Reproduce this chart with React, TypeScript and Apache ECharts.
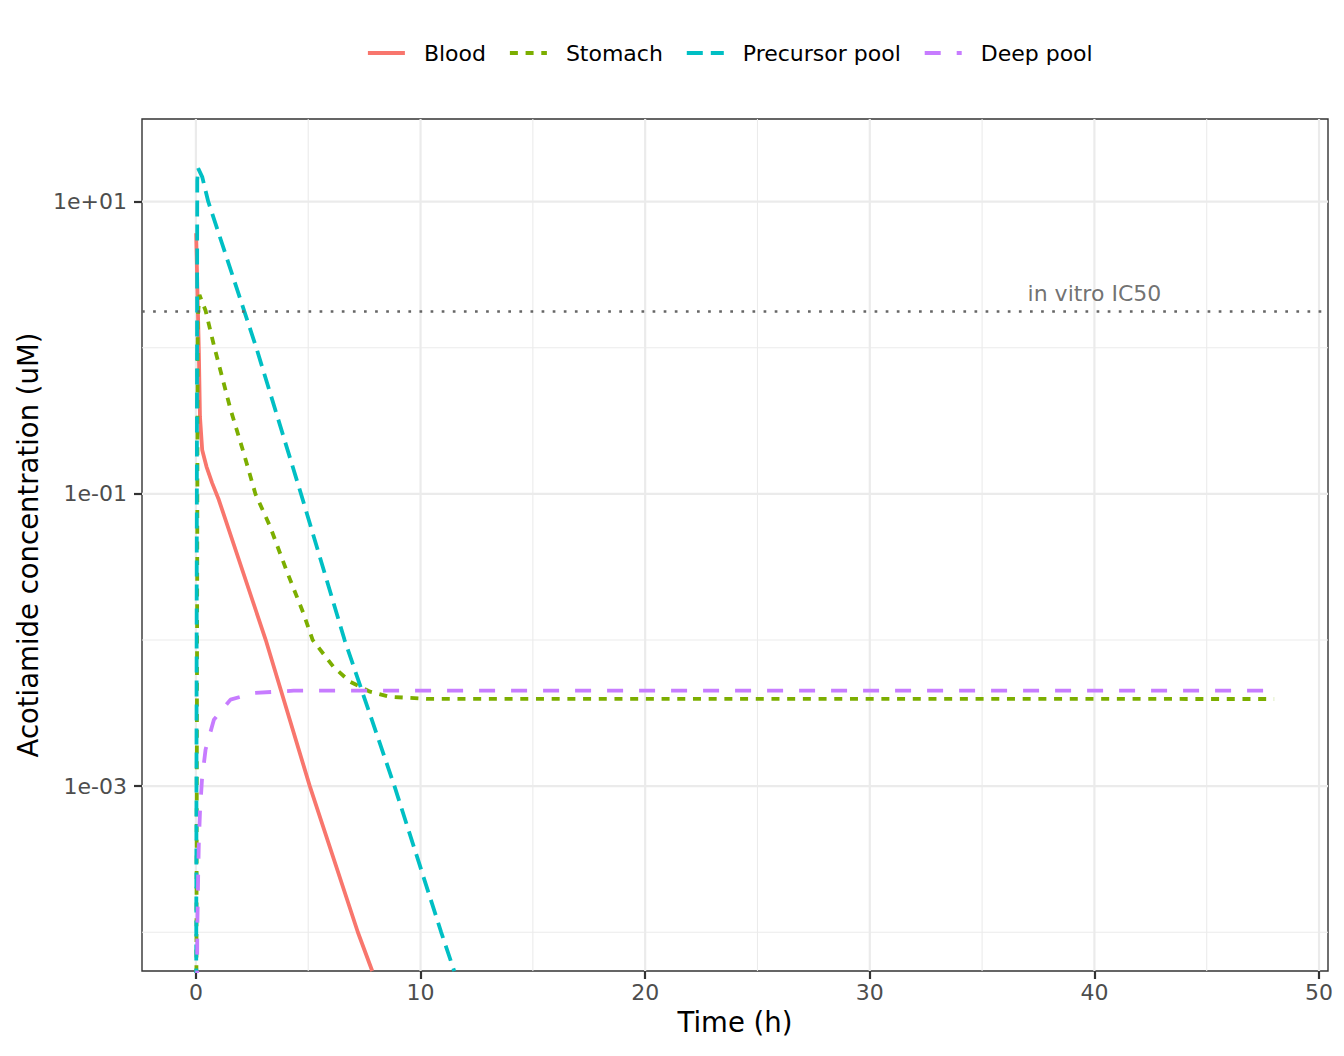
import React, { useEffect, useRef } from 'react';
import * as echarts from 'echarts';

const FONT = 'DejaVu Sans';

// Compartment concentrations (uM) over time (h)
const seriesNames = ['Blood', 'Stomach', 'Precursor pool', 'Deep pool'];

const bloodTime = [0.01, 0.06, 0.13, 0.18, 0.28, 0.47, 0.72, 1.02, 3.11, 5.07, 7.21, 7.85];
const bloodConc = [6.08, 2.77, 0.968, 0.339, 0.2, 0.154, 0.119, 0.0912, 0.01, 0.001, 0.0001, 0.0000543];

const stomachTime = [0, 0.08, 0.16, 0.43, 0.8, 1.54, 2.13, 2.65, 3.3, 4.03, 4.79, 5.2, 6.12, 6.86, 7.75, 8.63, 10.26, 48];
const stomachConc = [1e-6, 1.6, 2.3, 1.8, 1.04, 0.38, 0.19, 0.1, 0.06, 0.03, 0.0152, 0.01, 0.00656, 0.00519, 0.00443, 0.00409, 0.00396, 0.00395];

const precursorTime = [0, 0.06, 0.1, 0.28, 0.55, 2.69, 4.68, 6.62, 8.84, 10.92, 11.5];
const precursorConc = [1e-6, 14, 16.9, 14.8, 10, 1, 0.1, 0.01, 0.001, 0.0001, 0.0000543];

const deepTime = [0, 0.06, 0.1, 0.13, 0.18, 0.27, 0.43, 0.8, 1.54, 2.58, 4.35, 48];
const deepConc = [1e-7, 1e-4, 2.42e-4, 4.07e-4, 6.6e-4, 1.11e-3, 1.78e-3, 2.85e-3, 3.91e-3, 4.34e-3, 4.5e-3, 4.5e-3];

// Reference line
const ic50 = 1.78;
const ic50Label = 'in vitro IC50';
const ic50LabelTime = 40;

// Axis range and breaks (y in log10 units)
const xRange = [-2.4, 50.4];
const yRange = [-4.265, 1.566];
const xMajor = [0, 10, 20, 30, 40, 50];
const xMinor = [5, 15, 25, 35, 45];
const yMajor = [-3, -1, 1];
const yMinor = [-4, -2, 0];

const fmtExp = (v: number) => `1e${v < 0 ? '-' : '+'}${String(Math.abs(v)).padStart(2, '0')}`;
const toPairs = (t: number[], c: number[]) => t.map((x, i) => [x, Math.log10(c[i])]);

const App: React.FC = () => {
  const ref = useRef<HTMLDivElement>(null);

  useEffect(() => {
    if (!ref.current) return;
    const chart = echarts.init(ref.current, undefined, { renderer: 'svg' });

    const colors = ['#F8766D', '#7CAE00', '#00BFC4', '#C77CFF'];
    const dashes: any[] = ['solid', [8, 7.7], [16, 8], [16, 16]];
    const datasets = [
      toPairs(bloodTime, bloodConc),
      toPairs(stomachTime, stomachConc),
      toPairs(precursorTime, precursorConc),
      toPairs(deepTime, deepConc),
    ];

    // panel grid drawn as plain two-point line series
    const gridSeries = (pts: number[][], width: number) => ({
      type: 'line',
      data: pts,
      silent: true,
      symbol: 'none',
      z: 1,
      lineStyle: { color: '#EBEBEB', width, type: 'solid' },
    });
    const gridLines = [
      ...xMinor.map(v => gridSeries([[v, yRange[0]], [v, yRange[1]]], 1.1)),
      ...yMinor.map(v => gridSeries([[xRange[0], v], [xRange[1], v]], 1.1)),
      ...xMajor.map(v => gridSeries([[v, yRange[0]], [v, yRange[1]]], 2.2)),
      ...yMajor.map(v => gridSeries([[xRange[0], v], [xRange[1], v]], 2.2)),
    ];

    const tickLabel = { fontSize: 22, color: '#4D4D4D', fontFamily: FONT };
    const tickStyle = { color: '#333', width: 2.2 };

    chart.setOption({
      animation: false,
      backgroundColor: '#fff',
      grid: {
        left: 142, right: 16, top: 119, bottom: 85,
        show: true, borderColor: '#333333', borderWidth: 1.4,
        backgroundColor: 'transparent',
      },
      legend: {
        data: seriesNames,
        left: 366,
        top: 42,
        padding: 0,
        itemWidth: 37,
        itemHeight: 14,
        itemGap: 22,
        itemStyle: { opacity: 0 },
        lineStyle: { width: 3.8 },
        textStyle: { fontSize: 22, color: '#000', fontFamily: FONT, padding: [0, 0, 0, 14] },
      },
      xAxis: {
        type: 'value',
        position: 'bottom',
        min: xRange[0],
        max: xRange[1],
        name: 'Time (h)',
        nameLocation: 'middle',
        nameGap: 33,
        nameTextStyle: { fontSize: 27.5, color: '#000', fontFamily: FONT },
        axisLine: { show: false, onZero: false },
        splitLine: { show: false },
        axisTick: { show: true, customValues: xMajor, length: 8, lineStyle: tickStyle },
        axisLabel: { ...tickLabel, customValues: xMajor, margin: 10 },
      },
      yAxis: {
        type: 'value',
        position: 'left',
        min: yRange[0],
        max: yRange[1],
        name: 'Acotiamide concentration (uM)',
        nameLocation: 'middle',
        nameGap: 100,
        nameTextStyle: { fontSize: 27.5, color: '#000', fontFamily: FONT },
        axisLine: { show: false, onZero: false },
        splitLine: { show: false },
        axisTick: { show: true, customValues: yMajor, length: 8, lineStyle: tickStyle },
        axisLabel: { ...tickLabel, customValues: yMajor, margin: 15, formatter: (v: number) => fmtExp(v) },
      },
      series: [
        ...gridLines,
        ...seriesNames.map((name, i) => ({
          name,
          type: 'line',
          data: datasets[i],
          showSymbol: false,
          symbol: 'none',
          clip: true,
          z: 3,
          color: colors[i],
          lineStyle: { color: colors[i], width: 3.8, type: dashes[i], cap: 'butt' },
        })),
        {
          name: 'ic50',
          type: 'scatter',
          data: [[ic50LabelTime, Math.log10(ic50)]],
          symbolSize: 0,
          silent: true,
          z: 4,
          label: {
            show: true,
            position: 'top',
            distance: 7,
            formatter: ic50Label,
            fontSize: 22,
            color: '#4D4D4D',
            fontFamily: FONT,
          },
          markLine: {
            silent: true,
            symbol: ['none', 'none'],
            label: { show: false },
            lineStyle: { color: '#666666', width: 2.7, type: [2.7, 8.4], cap: 'butt' },
            data: [{ yAxis: Math.log10(ic50) }],
          },
        },
      ],
    });

    return () => chart.dispose();
  }, []);

  return (
    <div
      ref={ref}
      style={{ position: 'fixed', left: 0, top: 0, width: 1344, height: 1056, background: '#fff' }}
    ></div>
  );
};

export default App;
